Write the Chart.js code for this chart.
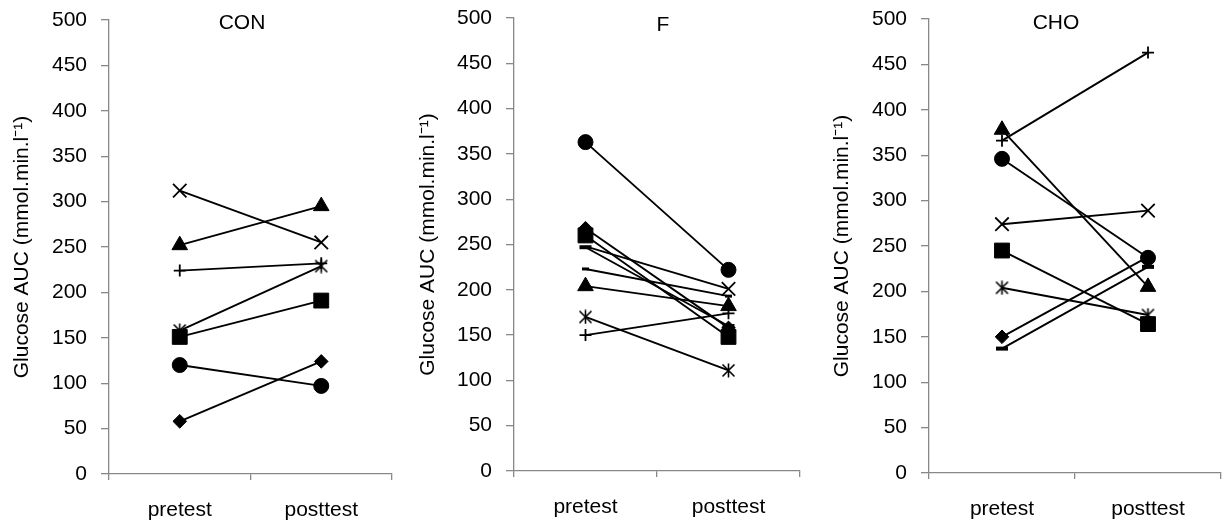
<!DOCTYPE html>
<html><head><meta charset="utf-8">
<script src="https://cdn.jsdelivr.net/npm/chart.js@4"></script>
<style>
html,body{margin:0;padding:0;background:#fff;}
#wrap{position:relative;width:1222px;height:523px;overflow:hidden;font-family:"Liberation Sans",Arial,sans-serif;}
canvas{position:absolute;top:0;}
.ttl{position:absolute;width:120px;text-align:center;font-size:21px;line-height:24px;color:#000;font-family:"Liberation Sans",Arial,sans-serif;}
</style></head><body>
<div id="wrap">
<canvas id="c1" width="400" height="523" style="left:0px;width:400px;height:523px"></canvas>
<canvas id="c2" width="410" height="523" style="left:400px;width:410px;height:523px"></canvas>
<canvas id="c3" width="412" height="523" style="left:810px;width:412px;height:523px"></canvas>
<div class="ttl" style="left:182px;top:10px">CON</div>
<div class="ttl" style="left:603px;top:12px">F</div>
<div class="ttl" style="left:996px;top:10px">CHO</div>
</div>
<script>
// ---------------- data ----------------
const categories = ['pretest', 'posttest'];
const yMin = 0, yMax = 500, yStep = 50;
const yAxisTitle = 'Glucose AUC (mmol.min.l\u207B\u00B9)';

const conSeries   = ['diamond', 'square', 'triangle', 'x', 'star', 'circle', 'plus'];
const conPretest  = [58, 151, 252, 312, 158, 120, 224];
const conPosttest = [124, 191, 295, 255, 229, 97, 232];

const fSeries   = ['diamond', 'square', 'triangle', 'x', 'star', 'circle', 'plus', 'dash', 'shortDash'];
const fPretest  = [268, 260, 204, 248, 170, 363, 150, 247, 223];
const fPosttest = [158, 148, 182, 201, 111, 222, 174, 160, 193];

const choSeries   = ['diamond', 'square', 'triangle', 'x', 'star', 'circle', 'plus', 'dash'];
const choPretest  = [150, 245, 378, 274, 204, 346, 366, 137];
const choPosttest = [238, 164, 205, 289, 174, 237, 463, 227];

// ---------------- styles ----------------
const AX = '#888888';
const FONT = {family: '"Liberation Sans", Arial, sans-serif', size: 21};

function starImage(size, lw) {
  const c = document.createElement('canvas');
  c.width = size; c.height = size;
  const g = c.getContext('2d');
  g.strokeStyle = '#000'; g.lineWidth = lw;
  const a = 1.5, b = size - 1.5, m = size / 2;
  g.beginPath();
  g.moveTo(a, a); g.lineTo(b, b);
  g.moveTo(b, a); g.lineTo(a, b);
  g.moveTo(m, 0.5); g.lineTo(m, size - 0.5);
  g.stroke();
  return c;
}
const STAR = starImage(15, 1.6);

const markerStyles = {
  diamond:   {pointStyle: 'rectRot',  radius: 6.8,  bw: 1},
  square:    {pointStyle: 'rect',     radius: 10.5, bw: 1},
  triangle:  {pointStyle: 'triangle', radius: 9,    bw: 1},
  x:         {pointStyle: 'crossRot', radius: 9.5,  bw: 1.8},
  star:      {pointStyle: STAR,       radius: 7.5,  bw: 1},
  circle:    {pointStyle: 'circle',   radius: 7.5,  bw: 1},
  plus:      {pointStyle: 'cross',    radius: 6,    bw: 1.8},
  dash:      {pointStyle: 'line',     radius: 6,    bw: 4},
  shortDash: {pointStyle: 'line',     radius: 3.5,  bw: 3}
};

function makeChart(id, series, pre, post, lay) {
  const datasets = series.map((name, i) => {
    const m = markerStyles[name];
    const hidden = lay.hidden && lay.hidden[name];
    return {
      label: name,
      data: [pre[i], post[i]],
      borderColor: '#000',
      backgroundColor: '#000',
      borderWidth: 1.9,
      pointStyle: m.pointStyle,
      pointRadius: hidden ? hidden.map(h => h ? 0 : m.radius) : m.radius,
      pointBorderWidth: m.bw,
      pointBackgroundColor: '#000',
      pointBorderColor: '#000',
      tension: 0,
      fill: false,
      clip: false
    };
  });
  new Chart(document.getElementById(id), {
    type: 'line',
    data: {labels: categories, datasets},
    options: {
      responsive: false,
      animation: false,
      layout: {autoPadding: false, padding: {top: lay.top, right: lay.right, bottom: 0, left: 0}},
      plugins: {legend: {display: false}, tooltip: {enabled: false}, title: {display: false}},
      scales: {
        x: {
          type: 'category',
          offset: true,
          grid: {offset: true, display: true, drawOnChartArea: false, drawTicks: true, tickLength: 6, color: AX, lineWidth: 1.3},
          border: {display: true, color: AX, width: 1.3},
          ticks: {color: '#000', font: FONT, padding: 18, maxRotation: 0},
          afterFit: s => { s.height = lay.xh; s.paddingLeft = 0; s.paddingRight = 0; }
        },
        y: {
          min: yMin, max: yMax,
          ticks: {stepSize: yStep, color: '#000', font: FONT, padding: 14},
          grid: {drawOnChartArea: false, drawTicks: true, tickLength: 8, color: AX, lineWidth: 1.3},
          border: {display: true, color: AX, width: 1.3},
          title: {display: true, text: yAxisTitle, color: '#000', font: FONT, padding: {top: lay.tp, bottom: 0}},
          afterFit: s => { s.width = lay.yw; s.paddingTop = 0; s.paddingBottom = 0; }
        }
      }
    }
  });
}

makeChart('c1', conSeries, conPretest, conPosttest, {top: 20, right: 8, xh: 49, yw: 109, tp: 10});
makeChart('c2', fSeries, fPretest, fPosttest, {top: 18, right: 10, xh: 52, yw: 114, tp: 16, hidden: {x: [true, false]}});
makeChart('c3', choSeries, choPretest, choPosttest, {top: 19, right: 1, xh: 50, yw: 119, tp: 20});
</script>
</body></html>
